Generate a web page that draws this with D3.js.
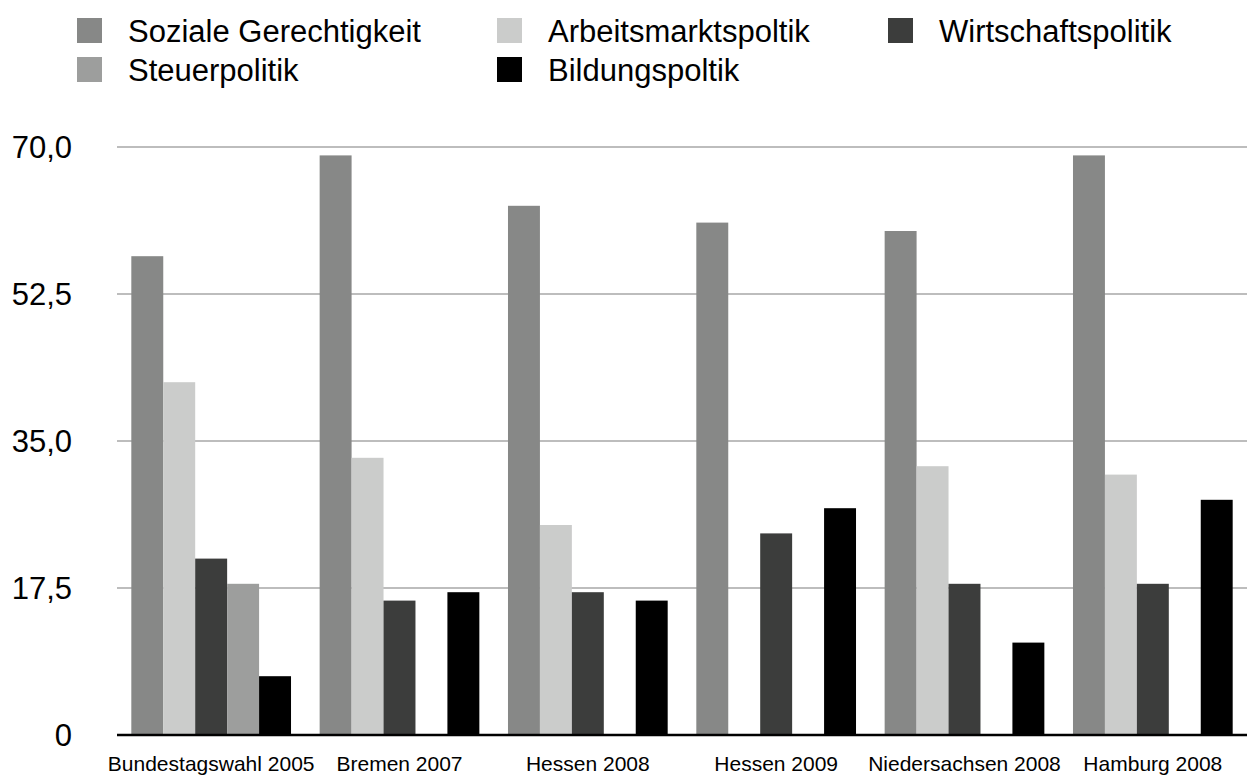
<!DOCTYPE html>
<html>
<head>
<meta charset="utf-8">
<script src="https://cdn.jsdelivr.net/npm/d3@7"></script>
<style>
  html, body { margin: 0; padding: 0; background: #fff; }
  svg { display: block; font-family: "Liberation Sans", Arial, sans-serif; }
</style>
</head>
<body>
<div id="chart"></div>
<script>
// ── Data ──────────────────────────────────────────────────────────────
const categories = ['Bundestagswahl 2005', 'Bremen 2007', 'Hessen 2008', 'Hessen 2009', 'Niedersachsen 2008', 'Hamburg 2008'];
const seriesNames = ['Soziale Gerechtigkeit', 'Arbeitsmarktspoltik', 'Wirtschaftspolitik', 'Steuerpolitik', 'Bildungspoltik'];
const seriesColors = ['#878887', '#cbcccb', '#3c3d3c', '#9d9e9d', '#000000'];

// null = no bar in that group
const sozialeGerechtigkeit = [57, 69, 63, 61, 60, 69];
const arbeitsmarktspolitik = [42, 33, 25, null, 32, 31];
const wirtschaftspolitik   = [21, 16, 17, 24, 18, 18];
const steuerpolitik        = [18, null, null, null, null, null];
const bildungspolitik      = [7, 17, 16, 27, 11, 28];

const yTicks = [0, 17.5, 35, 52.5, 70];
const yTickLabels = ['0', '17,5', '35,0', '52,5', '70,0'];

const seriesValues = [sozialeGerechtigkeit, arbeitsmarktspolitik, wirtschaftspolitik, steuerpolitik, bildungspolitik];

// ── Layout ────────────────────────────────────────────────────────────
const W = 1247, H = 776;
const plot = { left: 117, right: 1247, top: 147, bottom: 735 };

const svg = d3.select('#chart').append('svg')
    .attr('width', W)
    .attr('height', H);

const x0 = d3.scaleBand()
    .domain(categories)
    .range([plot.left, plot.right])
    .paddingInner(0.152)
    .paddingOuter(0.076);

const x1 = d3.scaleBand()
    .domain(seriesNames)
    .range([0, x0.bandwidth()]);

const y = d3.scaleLinear()
    .domain([0, 70])
    .range([plot.bottom, plot.top]);

// Gridlines
svg.append('g')
    .selectAll('line')
    .data(yTicks.filter(t => t > 0))
    .enter()
    .append('line')
    .attr('x1', plot.left)
    .attr('x2', plot.right)
    .attr('y1', d => y(d))
    .attr('y2', d => y(d))
    .attr('stroke', '#bdbdbd')
    .attr('stroke-width', 2);

// Y tick labels
svg.append('g')
    .selectAll('text')
    .data(yTicks)
    .enter()
    .append('text')
    .attr('x', 72)
    .attr('y', d => y(d))
    .attr('dy', '0.36em')
    .attr('text-anchor', 'end')
    .style('font-size', '31px')
    .style('fill', '#000')
    .text((d, i) => yTickLabels[i]);

// Bars
const rows = [];
categories.forEach((c, ci) => {
    seriesNames.forEach((s, si) => {
        const v = seriesValues[si][ci];
        if (v !== null) rows.push({ cat: c, series: s, value: v, color: seriesColors[si] });
    });
});

svg.append('g')
    .selectAll('rect')
    .data(rows)
    .enter()
    .append('rect')
    .attr('x', d => x0(d.cat) + x1(d.series))
    .attr('y', d => y(d.value))
    .attr('width', x1.bandwidth())
    .attr('height', d => y(0) - y(d.value))
    .attr('fill', d => d.color);

// Baseline
svg.append('line')
    .attr('x1', plot.left)
    .attr('x2', plot.right)
    .attr('y1', y(0))
    .attr('y2', y(0))
    .attr('stroke', '#000')
    .attr('stroke-width', 2.5);

// Category labels
svg.append('g')
    .selectAll('text')
    .data(categories)
    .enter()
    .append('text')
    .attr('x', d => x0(d) + x0.bandwidth() / 2)
    .attr('y', 771)
    .attr('text-anchor', 'middle')
    .style('font-size', '21px')
    .style('fill', '#000')
    .text(d => d);

// Legend: two rows, three columns
const legendCols = [77, 497, 888];
const legendRows = [42, 81];
const legendPos = [[0, 0], [1, 0], [2, 0], [0, 1], [1, 1]];

const legend = svg.append('g')
    .selectAll('g')
    .data(seriesNames)
    .enter()
    .append('g')
    .attr('transform', (d, i) => `translate(${legendCols[legendPos[i][0]]},${legendRows[legendPos[i][1]]})`);

legend.append('rect')
    .attr('x', 0)
    .attr('y', -24)
    .attr('width', 25)
    .attr('height', 25)
    .attr('fill', (d, i) => seriesColors[i]);

legend.append('text')
    .attr('x', 51)
    .attr('y', 0)
    .style('font-size', '31px')
    .style('fill', '#000')
    .text(d => d);
</script>
</body>
</html>
